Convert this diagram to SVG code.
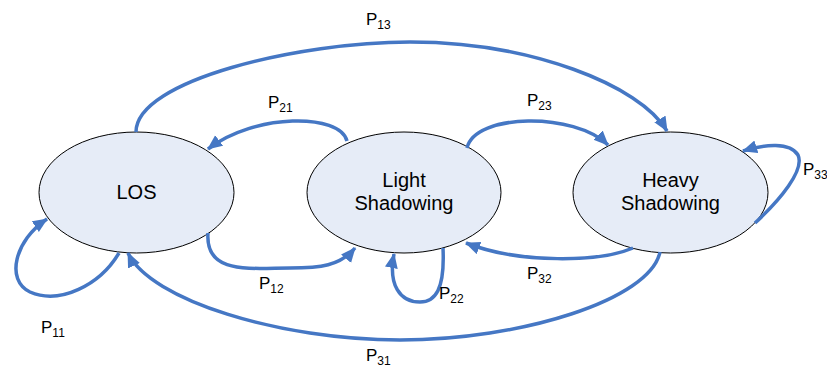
<svg xmlns="http://www.w3.org/2000/svg" width="827" height="367" viewBox="0 0 827 367">
<style>
.node{fill:#E6ECF7;stroke:#000;stroke-width:1}
.nt{font-family:"Liberation Sans",Arial,sans-serif;font-size:20px;fill:#000;text-anchor:middle}
.edge{fill:none;stroke:#4577C4;stroke-width:3.5;marker-end:url(#arr)}
.lbl{font-family:"Liberation Sans",Arial,sans-serif;font-size:17px;fill:#000}
.sub{font-size:12px}
</style>
<defs>
<marker id="arr" markerUnits="userSpaceOnUse" markerWidth="16" markerHeight="14" refX="14" refY="6.5" orient="auto">
<path d="M0,0 L15,6.5 L0,13 z" fill="#4577C4"/>
</marker>
</defs>
<g id="node-los">
<ellipse class="node" cx="136.5" cy="192.5" rx="97.5" ry="60.5"/>
<text class="nt" x="136.5" y="199">LOS</text>
</g>
<g id="node-light">
<ellipse class="node" cx="404" cy="192.5" rx="97" ry="60.5"/>
<text class="nt" x="404" y="187">Light</text>
<text class="nt" x="404" y="210">Shadowing</text>
</g>
<g id="node-heavy">
<ellipse class="node" cx="670.5" cy="192.5" rx="97.5" ry="60.5"/>
<text class="nt" x="670.5" y="187">Heavy</text>
<text class="nt" x="670.5" y="210">Shadowing</text>
</g>
<g id="connectors">
<path class="edge" d="M136,132 C136,80 300,42 410,42 C530,42 640,85 667,131"/>
<path class="edge" d="M347,141 C340,113 255,113 208,149"/>
<path class="edge" d="M467,148 C475,113 575,112 608,145"/>
<path class="edge" d="M208,233 C205,275 250,268 290,268 C320,268 340,266 355,248"/>
<path class="edge" d="M443,248 C445,290 435,302 420,302 C400,302 388,285 394,254"/>
<path class="edge" d="M633,248 C600,262 520,264 466,243"/>
<path class="edge" d="M660,252 C650,300 520,340 400,340 C280,340 150,300 128,253"/>
<path class="edge" d="M119,253 C100,285 60,305 30,292 C5,280 15,240 47,219"/>
<path class="edge" d="M755,223 C780,200 805,170 798,155 C790,142 765,144 743,151"/>
</g>
<g id="labels">
<text class="lbl" x="366" y="25">P<tspan class="sub" dy="4">13</tspan></text>
<text class="lbl" x="268" y="108">P<tspan class="sub" dy="4">21</tspan></text>
<text class="lbl" x="527" y="106">P<tspan class="sub" dy="4">23</tspan></text>
<text class="lbl" x="259" y="289">P<tspan class="sub" dy="4">12</tspan></text>
<text class="lbl" x="439" y="299">P<tspan class="sub" dy="4">22</tspan></text>
<text class="lbl" x="527" y="279">P<tspan class="sub" dy="4">32</tspan></text>
<text class="lbl" x="366" y="361">P<tspan class="sub" dy="4">31</tspan></text>
<text class="lbl" x="41" y="333">P<tspan class="sub" dy="4">11</tspan></text>
<text class="lbl" x="803" y="175">P<tspan class="sub" dy="4">33</tspan></text>
</g>
</svg>
